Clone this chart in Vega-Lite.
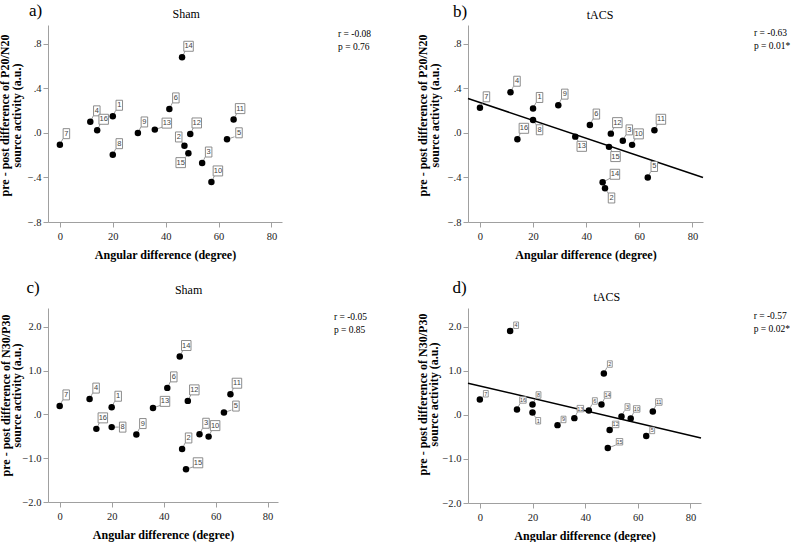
{
"$schema":"https://vega.github.io/schema/vega-lite/v6.json",
"autosize":{"type":"pad"},
"padding":{"left":-2,"top":2,"right":0,"bottom":0},
"background":"white",
"config":{"view":{"stroke":null},"font":"Liberation Serif",
 "axis":{"domainColor":"#a0a0a0","tickColor":"#a0a0a0","tickSize":5,"labelFont":"Liberation Serif","labelFontSize":10.5,"labelColor":"#222","titleFont":"Liberation Serif","titleFontSize":12,"titleFontWeight":"bold","titleColor":"#000","grid":false},
 "axisX":{"labelPadding":4,"titlePadding":8},
 "axisY":{"labelPadding":2,"titlePadding":3,"titleLineHeight":11.5}},
"datasets":{
 "a":[{"id":"1","x":20,"y":0.15},{"id":"2","x":47.1,"y":-0.114},{"id":"3","x":53.8,"y":-0.27},{"id":"4","x":11.5,"y":0.10},{"id":"5","x":63.2,"y":-0.057},{"id":"6","x":41.4,"y":0.216},{"id":"7","x":0,"y":-0.105},{"id":"8","x":20,"y":-0.195},{"id":"9","x":29.5,"y":0.0},{"id":"10","x":57.3,"y":-0.44},{"id":"11","x":65.7,"y":0.12},{"id":"12","x":49.3,"y":-0.009},{"id":"13","x":35.9,"y":0.03},{"id":"14","x":46.2,"y":0.68},{"id":"15","x":48.6,"y":-0.183},{"id":"16","x":14.1,"y":0.024}],
 "b":[{"id":"1","x":20,"y":0.22},{"id":"2","x":47.1,"y":-0.497},{"id":"3","x":53.8,"y":-0.071},{"id":"4","x":11.5,"y":0.366},{"id":"5","x":63.2,"y":-0.40},{"id":"6","x":41.4,"y":0.071},{"id":"7","x":0,"y":0.226},{"id":"8","x":20,"y":0.116},{"id":"9","x":29.5,"y":0.25},{"id":"10","x":57.3,"y":-0.107},{"id":"11","x":65.7,"y":0.024},{"id":"12","x":49.3,"y":-0.006},{"id":"13","x":35.9,"y":-0.033},{"id":"14","x":46.2,"y":-0.443},{"id":"15","x":48.6,"y":-0.125},{"id":"16","x":14.1,"y":-0.057}],
 "c":[{"id":"1","x":20,"y":0.164},{"id":"2","x":47.1,"y":-0.789},{"id":"3","x":53.8,"y":-0.453},{"id":"4","x":11.5,"y":0.35},{"id":"5","x":63.2,"y":0.042},{"id":"6","x":41.4,"y":0.606},{"id":"7","x":0,"y":0.194},{"id":"8","x":20,"y":-0.29},{"id":"9","x":29.5,"y":-0.46},{"id":"10","x":57.3,"y":-0.507},{"id":"11","x":65.7,"y":0.461},{"id":"12","x":49.3,"y":0.309},{"id":"13","x":35.9,"y":0.149},{"id":"14","x":46.2,"y":1.322},{"id":"15","x":48.6,"y":-1.253},{"id":"16","x":14.1,"y":-0.33}],
 "d":[{"id":"1","x":20,"y":0.057},{"id":"2","x":47.1,"y":0.941},{"id":"3","x":53.8,"y":-0.034},{"id":"4","x":11.5,"y":1.909},{"id":"5","x":63.2,"y":-0.48},{"id":"6","x":41.4,"y":0.102},{"id":"7","x":0,"y":0.352},{"id":"8","x":20,"y":0.238},{"id":"9","x":29.5,"y":-0.231},{"id":"10","x":57.3,"y":-0.079},{"id":"11","x":65.7,"y":0.079},{"id":"12","x":49.3,"y":-0.344},{"id":"13","x":35.9,"y":-0.072},{"id":"14","x":46.2,"y":0.238},{"id":"15","x":48.6,"y":-0.752},{"id":"16","x":14.1,"y":0.125}]
},
"columns":2,
"spacing":{"row":86,"column":186},
"bounds":"flush",
"concat":[
{
 "width":234,"height":197,
 "data":{"name":"a"},
 "encoding":{
  "x":{"field":"x","type":"quantitative","scale":{"domain":[-4.5,84],"nice":false,"zero":false},"axis":{"values":[0,20,40,60,80],"title":"Angular difference (degree)"}},
  "y":{"field":"y","type":"quantitative","scale":{"domain":[-0.8,0.97],"nice":false,"zero":false},"axis":{"values":[-0.8,-0.4,0,0.4,0.8],"labelExpr":"datum.value == 0 ? '.0' : replace(format(datum.value, '.1f'), '0.', '.')","title":["pre - post difference of P20/N20","source activity (a.u.)"],"titleX":-36.3,"titleY":90}}
 },
 "layer":[
  {"transform":[{"filter":"indexof(['13','5','2','15'], datum.id) < 0"}],"layer":[
   {"mark":{"type":"rule","color":"#808080","strokeWidth":0.8,"x2Offset":3,"y2Offset":-6},"encoding":{"x2":{"field":"x"},"y2":{"field":"y"}}},
   {"mark":{"type":"point","filled":true,"fill":"white","stroke":"#808080","strokeWidth":0.9,"opacity":1,"size":100,"xOffset":6.5,"yOffset":-11},"encoding":{"shape":{"condition":{"test":"length(datum.id) > 1","value":"M-0.95,-1H0.95V1H-0.95Z"},"value":"M-0.65,-1H0.65V1H-0.65Z"}}},
   {"mark":{"type":"text","font":"Liberation Sans","fontSize":7.5,"fill":"#444","align":"center","baseline":"middle","dx":6.5,"dy":-11},"encoding":{"text":{"field":"id"}}}
  ]},
  {"transform":[{"filter":"indexof(['13','5'], datum.id) >= 0"}],"layer":[
   {"mark":{"type":"rule","color":"#808080","strokeWidth":0.8,"x2Offset":7.5,"y2Offset":-2.5},"encoding":{"x2":{"field":"x"},"y2":{"field":"y"}}},
   {"mark":{"type":"point","filled":true,"fill":"white","stroke":"#808080","strokeWidth":0.9,"opacity":1,"size":100,"xOffset":12,"yOffset":-6.5},"encoding":{"shape":{"condition":{"test":"length(datum.id) > 1","value":"M-0.95,-1H0.95V1H-0.95Z"},"value":"M-0.65,-1H0.65V1H-0.65Z"}}},
   {"mark":{"type":"text","font":"Liberation Sans","fontSize":7.5,"fill":"#444","align":"center","baseline":"middle","dx":12,"dy":-6.5},"encoding":{"text":{"field":"id"}}}
  ]},
  {"transform":[{"filter":"datum.id == '2'"}],"layer":[
   {"mark":{"type":"rule","color":"#808080","strokeWidth":0.8,"x2Offset":-2.5,"y2Offset":-3.7},"encoding":{"x2":{"field":"x"},"y2":{"field":"y"}}},
   {"mark":{"type":"point","filled":true,"fill":"white","stroke":"#808080","strokeWidth":0.9,"opacity":1,"size":100,"xOffset":-5.7,"yOffset":-8.7,"shape":"M-0.65,-1H0.65V1H-0.65Z"}},
   {"mark":{"type":"text","font":"Liberation Sans","fontSize":7.5,"fill":"#444","align":"center","baseline":"middle","dx":-5.7,"dy":-8.7},"encoding":{"text":{"field":"id"}}}
  ]},
  {"transform":[{"filter":"datum.id == '15'"}],"layer":[
   {"mark":{"type":"rule","color":"#808080","strokeWidth":0.8,"x2Offset":-3,"y2Offset":4.3},"encoding":{"x2":{"field":"x"},"y2":{"field":"y"}}},
   {"mark":{"type":"point","filled":true,"fill":"white","stroke":"#808080","strokeWidth":0.9,"opacity":1,"size":100,"xOffset":-7.7,"yOffset":9.3,"shape":"M-0.95,-1H0.95V1H-0.95Z"}},
   {"mark":{"type":"text","font":"Liberation Sans","fontSize":7.5,"fill":"#444","align":"center","baseline":"middle","dx":-7.7,"dy":9.3},"encoding":{"text":{"field":"id"}}}
  ]},
  {"mark":{"type":"point","filled":true,"color":"black","size":42,"opacity":1}},
  {"data":{"values":[{"x":-4.5,"y":0.97,"t":"a)"}]},"mark":{"type":"text","fontSize":17,"align":"left","baseline":"alphabetic","dx":-19,"dy":-9,"fill":"black"},"encoding":{"text":{"field":"t"}}},
  {"data":{"values":[{"x":47.8,"y":0.97,"t":"Sham"}]},"mark":{"type":"text","fontSize":12,"align":"center","baseline":"alphabetic","dy":-7,"fill":"black"},"encoding":{"text":{"field":"t"}}},
  {"data":{"values":[{"x":105.2,"y":0.97,"t":"r = -0.08\np = 0.76"}]},"mark":{"type":"text","fontSize":9.5,"align":"left","baseline":"alphabetic","dy":12,"lineBreak":"\n","lineHeight":13,"fill":"black"},"encoding":{"text":{"field":"t"}}}
 ]
},
{
 "width":235,"height":197,
 "data":{"name":"b"},
 "encoding":{
  "x":{"field":"x","type":"quantitative","scale":{"domain":[-4.5,84],"nice":false,"zero":false},"axis":{"values":[0,20,40,60,80],"title":"Angular difference (degree)"}},
  "y":{"field":"y","type":"quantitative","scale":{"domain":[-0.8,0.97],"nice":false,"zero":false},"axis":{"values":[-0.8,-0.4,0,0.4,0.8],"labelExpr":"datum.value == 0 ? '.0' : replace(format(datum.value, '.1f'), '0.', '.')","title":["pre - post difference of P20/N20","source activity (a.u.)"],"titleX":-38.1,"titleY":90}}
 },
 "layer":[
  {"transform":[{"regression":"y","on":"x","extent":[-4.5,84]}],"mark":{"type":"line","color":"black","strokeWidth":1.5},"encoding":{}},
  {"transform":[{"filter":"indexof(['8','13','15','2','14'], datum.id) < 0"}],"layer":[
   {"mark":{"type":"rule","color":"#808080","strokeWidth":0.8,"x2Offset":3,"y2Offset":-6},"encoding":{"x2":{"field":"x"},"y2":{"field":"y"}}},
   {"mark":{"type":"point","filled":true,"fill":"white","stroke":"#808080","strokeWidth":0.9,"opacity":1,"size":100,"xOffset":6.5,"yOffset":-11},"encoding":{"shape":{"condition":{"test":"length(datum.id) > 1","value":"M-0.95,-1H0.95V1H-0.95Z"},"value":"M-0.65,-1H0.65V1H-0.65Z"}}},
   {"mark":{"type":"text","font":"Liberation Sans","fontSize":7.5,"fill":"#444","align":"center","baseline":"middle","dx":6.5,"dy":-11},"encoding":{"text":{"field":"id"}}}
  ]},
  {"transform":[{"filter":"indexof(['8','13','15','2'], datum.id) >= 0"}],"layer":[
   {"mark":{"type":"rule","color":"#808080","strokeWidth":0.8,"x2Offset":3,"y2Offset":4.7},"encoding":{"x2":{"field":"x"},"y2":{"field":"y"}}},
   {"mark":{"type":"point","filled":true,"fill":"white","stroke":"#808080","strokeWidth":0.9,"opacity":1,"size":100,"xOffset":6.5,"yOffset":9.7},"encoding":{"shape":{"condition":{"test":"length(datum.id) > 1","value":"M-0.95,-1H0.95V1H-0.95Z"},"value":"M-0.65,-1H0.65V1H-0.65Z"}}},
   {"mark":{"type":"text","font":"Liberation Sans","fontSize":7.5,"fill":"#444","align":"center","baseline":"middle","dx":6.5,"dy":9.7},"encoding":{"text":{"field":"id"}}}
  ]},
  {"transform":[{"filter":"datum.id == '14'"}],"layer":[
   {"mark":{"type":"rule","color":"#808080","strokeWidth":0.8,"x2Offset":7.5,"y2Offset":-4},"encoding":{"x2":{"field":"x"},"y2":{"field":"y"}}},
   {"mark":{"type":"point","filled":true,"fill":"white","stroke":"#808080","strokeWidth":0.9,"opacity":1,"size":100,"xOffset":12.3,"yOffset":-8,"shape":"M-0.95,-1H0.95V1H-0.95Z"}},
   {"mark":{"type":"text","font":"Liberation Sans","fontSize":7.5,"fill":"#444","align":"center","baseline":"middle","dx":12.3,"dy":-8},"encoding":{"text":{"field":"id"}}}
  ]},
  {"mark":{"type":"point","filled":true,"color":"black","size":42,"opacity":1}},
  {"data":{"values":[{"x":-4.5,"y":0.97,"t":"b)"}]},"mark":{"type":"text","fontSize":17,"align":"left","baseline":"alphabetic","dx":-15,"dy":-8,"fill":"black"},"encoding":{"text":{"field":"t"}}},
  {"data":{"values":[{"x":45.2,"y":0.97,"t":"tACS"}]},"mark":{"type":"text","fontSize":12,"align":"center","baseline":"alphabetic","dy":-6,"fill":"black"},"encoding":{"text":{"field":"t"}}},
  {"data":{"values":[{"x":103.2,"y":0.97,"t":"r = -0.63\np = 0.01*"}]},"mark":{"type":"text","fontSize":9.5,"align":"left","baseline":"alphabetic","dy":11,"lineBreak":"\n","lineHeight":13,"fill":"black"},"encoding":{"text":{"field":"t"}}}
 ]
},
{
 "width":230,"height":194,
 "data":{"name":"c"},
 "encoding":{
  "x":{"field":"x","type":"quantitative","scale":{"domain":[-4.5,84],"nice":false,"zero":false},"axis":{"values":[0,20,40,60,80],"title":"Angular difference (degree)"}},
  "y":{"field":"y","type":"quantitative","scale":{"domain":[-2,2.43],"nice":false,"zero":false},"axis":{"values":[-2,-1,0,1,2],"labelExpr":"datum.value == 0 ? '.0' : format(datum.value, '.1f')","title":["pre - post difference of N30/P30","source activity (a.u.)"],"titleX":-35.8,"titleY":87}}
 },
 "layer":[
  {"transform":[{"filter":"indexof(['13','15','5','8'], datum.id) < 0"}],"layer":[
   {"mark":{"type":"rule","color":"#808080","strokeWidth":0.8,"x2Offset":3,"y2Offset":-6},"encoding":{"x2":{"field":"x"},"y2":{"field":"y"}}},
   {"mark":{"type":"point","filled":true,"fill":"white","stroke":"#808080","strokeWidth":0.9,"opacity":1,"size":100,"xOffset":6.5,"yOffset":-11},"encoding":{"shape":{"condition":{"test":"length(datum.id) > 1","value":"M-0.95,-1H0.95V1H-0.95Z"},"value":"M-0.65,-1H0.65V1H-0.65Z"}}},
   {"mark":{"type":"text","font":"Liberation Sans","fontSize":7.5,"fill":"#444","align":"center","baseline":"middle","dx":6.5,"dy":-11},"encoding":{"text":{"field":"id"}}}
  ]},
  {"transform":[{"filter":"indexof(['13','15','5'], datum.id) >= 0"}],"layer":[
   {"mark":{"type":"rule","color":"#808080","strokeWidth":0.8,"x2Offset":7.5,"y2Offset":-2.5},"encoding":{"x2":{"field":"x"},"y2":{"field":"y"}}},
   {"mark":{"type":"point","filled":true,"fill":"white","stroke":"#808080","strokeWidth":0.9,"opacity":1,"size":100,"xOffset":12,"yOffset":-6.5},"encoding":{"shape":{"condition":{"test":"length(datum.id) > 1","value":"M-0.95,-1H0.95V1H-0.95Z"},"value":"M-0.65,-1H0.65V1H-0.65Z"}}},
   {"mark":{"type":"text","font":"Liberation Sans","fontSize":7.5,"fill":"#444","align":"center","baseline":"middle","dx":12,"dy":-6.5},"encoding":{"text":{"field":"id"}}}
  ]},
  {"transform":[{"filter":"datum.id == '8'"}],"layer":[
   {"mark":{"type":"rule","color":"#808080","strokeWidth":0.8,"x2Offset":7,"y2Offset":0},"encoding":{"x2":{"field":"x"},"y2":{"field":"y"}}},
   {"mark":{"type":"point","filled":true,"fill":"white","stroke":"#808080","strokeWidth":0.9,"opacity":1,"size":100,"xOffset":11,"yOffset":0,"shape":"M-0.65,-1H0.65V1H-0.65Z"}},
   {"mark":{"type":"text","font":"Liberation Sans","fontSize":7.5,"fill":"#444","align":"center","baseline":"middle","dx":11,"dy":0},"encoding":{"text":{"field":"id"}}}
  ]},
  {"mark":{"type":"point","filled":true,"color":"black","size":42,"opacity":1}},
  {"data":{"values":[{"x":-4.5,"y":2.43,"t":"c)"}]},"mark":{"type":"text","fontSize":17,"align":"left","baseline":"alphabetic","dx":-21.6,"dy":-15,"fill":"black"},"encoding":{"text":{"field":"t"}}},
  {"data":{"values":[{"x":49.6,"y":2.43,"t":"Sham"}]},"mark":{"type":"text","fontSize":12,"align":"center","baseline":"alphabetic","dy":-14,"fill":"black"},"encoding":{"text":{"field":"t"}}},
  {"data":{"values":[{"x":105.5,"y":2.43,"t":"r = -0.05\np = 0.85"}]},"mark":{"type":"text","fontSize":9.5,"align":"left","baseline":"alphabetic","dy":12,"lineBreak":"\n","lineHeight":13,"fill":"black"},"encoding":{"text":{"field":"t"}}}
 ]
},
{
 "width":233,"height":195,
 "data":{"name":"d"},
 "encoding":{
  "x":{"field":"x","type":"quantitative","scale":{"domain":[-4.5,84],"nice":false,"zero":false},"axis":{"values":[0,20,40,60,80],"title":"Angular difference (degree)"}},
  "y":{"field":"y","type":"quantitative","scale":{"domain":[-2,2.43],"nice":false,"zero":false},"axis":{"values":[-2,-1,0,1,2],"labelExpr":"datum.value == 0 ? '.0' : format(datum.value, '.1f')","title":["pre - post difference of N30/P30","source activity (a.u.)"],"titleX":-38.8,"titleY":86}}
 },
 "layer":[
  {"transform":[{"regression":"y","on":"x","extent":[-4.5,84]}],"mark":{"type":"line","color":"black","strokeWidth":1.5},"encoding":{}},
  {"transform":[{"filter":"indexof(['7','4','9','12','5','1','15'], datum.id) < 0"}],"layer":[
   {"mark":{"type":"rule","color":"#808080","strokeWidth":0.8,"x2Offset":3,"y2Offset":-6},"encoding":{"x2":{"field":"x"},"y2":{"field":"y"}}},
   {"mark":{"type":"point","filled":true,"fill":"white","stroke":"#808080","strokeWidth":0.8,"opacity":1,"size":42,"xOffset":6,"yOffset":-9.5},"encoding":{"shape":{"condition":{"test":"length(datum.id) > 1","value":"M-1,-1H1V1H-1Z"},"value":"M-0.75,-1H0.75V1H-0.75Z"}}},
   {"mark":{"type":"text","font":"Liberation Sans","fontSize":5.5,"fill":"#444","align":"center","baseline":"middle","dx":6,"dy":-9.5},"encoding":{"text":{"field":"id"}}}
  ]},
  {"transform":[{"filter":"indexof(['7','4','9','12','5'], datum.id) >= 0"}],"layer":[
   {"mark":{"type":"rule","color":"#808080","strokeWidth":0.8,"x2Offset":3,"y2Offset":-3},"encoding":{"x2":{"field":"x"},"y2":{"field":"y"}}},
   {"mark":{"type":"point","filled":true,"fill":"white","stroke":"#808080","strokeWidth":0.8,"opacity":1,"size":42,"xOffset":6,"yOffset":-5.7},"encoding":{"shape":{"condition":{"test":"length(datum.id) > 1","value":"M-1,-1H1V1H-1Z"},"value":"M-0.75,-1H0.75V1H-0.75Z"}}},
   {"mark":{"type":"text","font":"Liberation Sans","fontSize":5.5,"fill":"#444","align":"center","baseline":"middle","dx":6,"dy":-5.7},"encoding":{"text":{"field":"id"}}}
  ]},
  {"transform":[{"filter":"datum.id == '1'"}],"layer":[
   {"mark":{"type":"rule","color":"#808080","strokeWidth":0.8,"x2Offset":3,"y2Offset":5},"encoding":{"x2":{"field":"x"},"y2":{"field":"y"}}},
   {"mark":{"type":"point","filled":true,"fill":"white","stroke":"#808080","strokeWidth":0.8,"opacity":1,"size":42,"xOffset":5.7,"yOffset":8.3,"shape":"M-0.75,-1H0.75V1H-0.75Z"}},
   {"mark":{"type":"text","font":"Liberation Sans","fontSize":5.5,"fill":"#444","align":"center","baseline":"middle","dx":5.7,"dy":8.3},"encoding":{"text":{"field":"id"}}}
  ]},
  {"transform":[{"filter":"datum.id == '15'"}],"layer":[
   {"mark":{"type":"rule","color":"#808080","strokeWidth":0.8,"x2Offset":8,"y2Offset":-3},"encoding":{"x2":{"field":"x"},"y2":{"field":"y"}}},
   {"mark":{"type":"point","filled":true,"fill":"white","stroke":"#808080","strokeWidth":0.8,"opacity":1,"size":42,"xOffset":11.7,"yOffset":-6.3,"shape":"M-1,-1H1V1H-1Z"}},
   {"mark":{"type":"text","font":"Liberation Sans","fontSize":5.5,"fill":"#444","align":"center","baseline":"middle","dx":11.7,"dy":-6.3},"encoding":{"text":{"field":"id"}}}
  ]},
  {"mark":{"type":"point","filled":true,"color":"black","size":42,"opacity":1}},
  {"data":{"values":[{"x":-4.5,"y":2.43,"t":"d)"}]},"mark":{"type":"text","fontSize":17,"align":"left","baseline":"alphabetic","dx":-15.6,"dy":-15,"fill":"black"},"encoding":{"text":{"field":"t"}}},
  {"data":{"values":[{"x":48.2,"y":2.43,"t":"tACS"}]},"mark":{"type":"text","fontSize":12,"align":"center","baseline":"alphabetic","dy":-7.5,"fill":"black"},"encoding":{"text":{"field":"t"}}},
  {"data":{"values":[{"x":104,"y":2.43,"t":"r = -0.57\np = 0.02*"}]},"mark":{"type":"text","fontSize":9.5,"align":"left","baseline":"alphabetic","dy":10.7,"lineBreak":"\n","lineHeight":13,"fill":"black"},"encoding":{"text":{"field":"t"}}}
 ]
}
]
}
